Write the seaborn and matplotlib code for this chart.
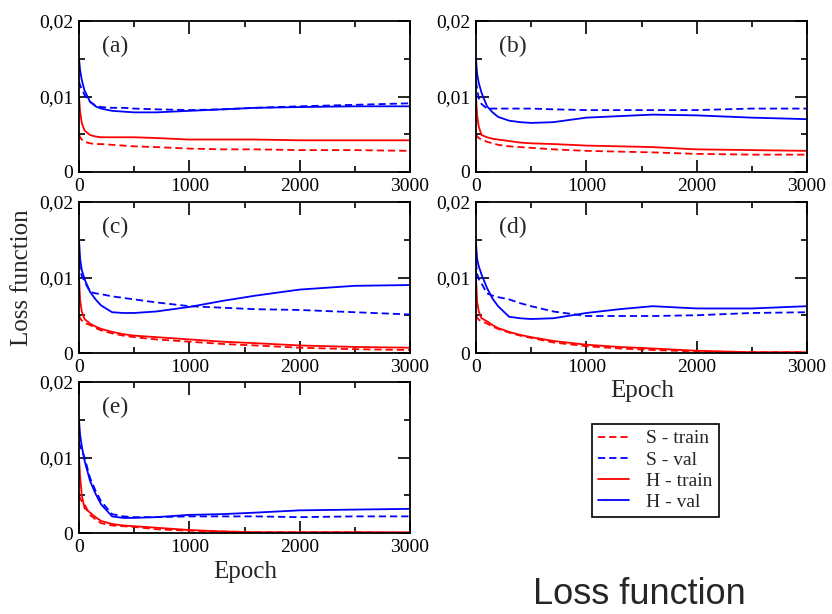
import numpy as np
import pandas as pd
import seaborn as sns
import matplotlib
matplotlib.use("Agg")
import matplotlib.pyplot as plt
from matplotlib.lines import Line2D
from matplotlib.ticker import MultipleLocator

sns.set_style("ticks")
plt.rcParams["font.family"] = ["Liberation Serif", "DejaVu Serif"]

# ---------------- data ----------------
epochs = [0, 10, 25, 50, 100, 150, 200, 300, 400, 500, 700, 1000, 1300, 1600, 2000, 2500, 3000]

panels = ["(a)", "(b)", "(c)", "(d)", "(e)"]
series_names = ["S - train", "S - val", "H - train", "H - val"]

a_s_train = [0.0050, 0.0046, 0.0043, 0.0040, 0.0038, 0.0037, 0.0037, 0.0036, 0.0035, 0.0034, 0.0033, 0.0031, 0.0030, 0.0030, 0.0029, 0.0029, 0.0028]
a_s_val   = [0.0120, 0.0115, 0.0110, 0.0102, 0.0093, 0.0088, 0.0086, 0.0085, 0.0085, 0.0084, 0.0083, 0.0082, 0.0083, 0.0085, 0.0087, 0.0089, 0.0091]
a_h_train = [0.0100, 0.0080, 0.0065, 0.0055, 0.0049, 0.0047, 0.0046, 0.0046, 0.0046, 0.0046, 0.0045, 0.0043, 0.0043, 0.0043, 0.0042, 0.0042, 0.0042]
a_h_val   = [0.0150, 0.0135, 0.0122, 0.0108, 0.0093, 0.0087, 0.0084, 0.0081, 0.0080, 0.0079, 0.0079, 0.0081, 0.0083, 0.0085, 0.0086, 0.0087, 0.0087]

b_s_train = [0.0050, 0.0047, 0.0045, 0.0043, 0.0040, 0.0038, 0.0036, 0.0034, 0.0033, 0.0032, 0.0030, 0.0028, 0.0027, 0.0026, 0.0024, 0.0023, 0.0023]
b_s_val   = [0.0120, 0.0110, 0.0098, 0.0090, 0.0084, 0.0084, 0.0084, 0.0084, 0.0084, 0.0084, 0.0083, 0.0082, 0.0082, 0.0082, 0.0082, 0.0084, 0.0084]
b_h_train = [0.0100, 0.0075, 0.0060, 0.0049, 0.0046, 0.0044, 0.0043, 0.0041, 0.0039, 0.0038, 0.0037, 0.0035, 0.0034, 0.0033, 0.0030, 0.0029, 0.0028]
b_h_val   = [0.0150, 0.0130, 0.0118, 0.0105, 0.0087, 0.0079, 0.0073, 0.0068, 0.0066, 0.0065, 0.0066, 0.0072, 0.0074, 0.0076, 0.0075, 0.0072, 0.0070]

c_s_train = [0.0050, 0.0046, 0.0043, 0.0040, 0.0037, 0.0033, 0.0030, 0.0026, 0.0023, 0.0021, 0.0018, 0.0015, 0.0012, 0.0010, 0.0007, 0.0005, 0.0004]
c_s_val   = [0.0120, 0.0110, 0.0102, 0.0095, 0.0081, 0.0079, 0.0078, 0.0075, 0.0073, 0.0071, 0.0067, 0.0062, 0.0060, 0.0058, 0.0057, 0.0054, 0.0051]
c_h_train = [0.0100, 0.0070, 0.0055, 0.0045, 0.0039, 0.0035, 0.0032, 0.0028, 0.0025, 0.0023, 0.0021, 0.0018, 0.0015, 0.0013, 0.0010, 0.0008, 0.0007]
c_h_val   = [0.0150, 0.0125, 0.0110, 0.0098, 0.0081, 0.0071, 0.0063, 0.0054, 0.0053, 0.0053, 0.0055, 0.0061, 0.0069, 0.0076, 0.0084, 0.0089, 0.0090]

d_s_train = [0.0050, 0.0047, 0.0044, 0.0042, 0.0039, 0.0035, 0.0032, 0.0027, 0.0023, 0.0020, 0.0014, 0.0009, 0.0006, 0.0004, 0.0002, 0.0001, 0.0001]
d_s_val   = [0.0120, 0.0105, 0.0098, 0.0092, 0.0079, 0.0076, 0.0074, 0.0071, 0.0066, 0.0062, 0.0055, 0.0049, 0.0049, 0.0049, 0.0050, 0.0053, 0.0054]
d_h_train = [0.0100, 0.0068, 0.0055, 0.0046, 0.0042, 0.0037, 0.0033, 0.0028, 0.0024, 0.0021, 0.0016, 0.0011, 0.0008, 0.0006, 0.0003, 0.0001, 0.0001]
d_h_val   = [0.0145, 0.0125, 0.0115, 0.0104, 0.0086, 0.0072, 0.0062, 0.0048, 0.0046, 0.0045, 0.0046, 0.0053, 0.0058, 0.0062, 0.0059, 0.0059, 0.0062]

e_s_train = [0.0050, 0.0046, 0.0042, 0.0038, 0.0024, 0.0018, 0.0013, 0.0010, 0.0009, 0.0008, 0.0005, 0.0003, 0.0002, 0.0001, 0.0001, 0.0001, 0.0000]
e_s_val   = [0.0120, 0.0115, 0.0110, 0.0100, 0.0073, 0.0056, 0.0042, 0.0025, 0.0022, 0.0021, 0.0021, 0.0022, 0.0022, 0.0022, 0.0021, 0.0022, 0.0022]
e_h_train = [0.0100, 0.0075, 0.0050, 0.0033, 0.0027, 0.0021, 0.0016, 0.0012, 0.0010, 0.0009, 0.0007, 0.0004, 0.0002, 0.0001, 0.0001, 0.0001, 0.0001]
e_h_val   = [0.0150, 0.0130, 0.0115, 0.0096, 0.0069, 0.0052, 0.0038, 0.0022, 0.0020, 0.0020, 0.0021, 0.0024, 0.0025, 0.0027, 0.0030, 0.0031, 0.0032]

panel_data = {
    "(a)": [a_s_train, a_s_val, a_h_train, a_h_val],
    "(b)": [b_s_train, b_s_val, b_h_train, b_h_val],
    "(c)": [c_s_train, c_s_val, c_h_train, c_h_val],
    "(d)": [d_s_train, d_s_val, d_h_train, d_h_val],
    "(e)": [e_s_train, e_s_val, e_h_train, e_h_val],
}

x_ticks = [0, 1000, 2000, 3000]
y_ticks = [0, 0.01, 0.02]
y_tick_labels = ["0", "0,01", "0,02"]

# ---------------- styles ----------------
colors = {"S - train": "#ff0000", "S - val": "#0000ff", "H - train": "#ff0000", "H - val": "#0000ff"}
dash = (0, (4.0, 2.2))
styles = {"S - train": dash, "S - val": dash, "H - train": "-", "H - val": "-"}

W, H = 832, 614
fig = plt.figure(figsize=(W / 100, H / 100), dpi=100)

def box(l, t, r, b):
    return [l / W, 1 - b / H, (r - l) / W, (b - t) / H]

positions = {
    "(a)": box(79, 21, 410, 172),
    "(b)": box(476, 21, 807, 172),
    "(c)": box(79, 202, 410, 353),
    "(d)": box(476, 202, 807, 353),
    "(e)": box(79, 382, 410, 533),
}

for p in panels:
    ax = fig.add_axes(positions[p])
    df = pd.DataFrame({"Epoch": np.tile(epochs, 4),
                       "Loss": np.concatenate(panel_data[p]),
                       "Series": np.repeat(series_names, len(epochs))})
    for s in series_names:
        sub = df[df["Series"] == s]
        sns.lineplot(data=sub, x="Epoch", y="Loss", ax=ax, color=colors[s],
                     linestyle=styles[s], linewidth=1.3, legend=False)
    ax.set_xlim(0, 3000)
    ax.set_ylim(0, 0.02)
    ax.set_xticks(x_ticks)
    ax.set_xticklabels([str(v) for v in x_ticks])
    ax.set_yticks(y_ticks)
    ax.set_yticklabels(y_tick_labels)
    ax.xaxis.set_minor_locator(MultipleLocator(500))
    ax.yaxis.set_minor_locator(MultipleLocator(0.005))
    ax.tick_params(which="both", direction="in", top=True, right=True,
                   width=1.2, colors="black", labelsize=14)
    ax.tick_params(which="major", length=9, pad=4)
    ax.tick_params(which="minor", length=4.5)
    ax.set_xlabel("")
    ax.set_ylabel("")
    for sp in ax.spines.values():
        sp.set_linewidth(1.3)
        sp.set_color("black")
    ax.text(0.07, 0.83, p, transform=ax.transAxes, fontsize=17, va="center", ha="left")

fig.text(22 / W, 1 - 278 / H, "Loss function", rotation=90, fontsize=18, ha="center", va="center")
fig.text(642 / W, 1 - 391 / H, "Epoch", fontsize=18, ha="center", va="center")
fig.text(245 / W, 1 - 572 / H, "Epoch", fontsize=18, ha="center", va="center")

handles = [Line2D([], [], color=colors[s], linestyle=styles[s], linewidth=1.3) for s in series_names]
leg = fig.legend(handles, series_names, loc="upper left",
                 bbox_to_anchor=(592 / W, 1 - 424 / H), borderaxespad=0,
                 fontsize=14, frameon=True, fancybox=False, framealpha=1,
                 edgecolor="black", handlelength=1.6, labelspacing=0.18,
                 borderpad=0.3, handletextpad=0.9)
leg.get_frame().set_linewidth(1.2)

fig.text(533 / W, 2 / H, "Loss function", fontsize=26, ha="left", va="bottom",
         family=["Liberation Sans", "DejaVu Sans"])

fig.savefig("out.png", dpi=100)
